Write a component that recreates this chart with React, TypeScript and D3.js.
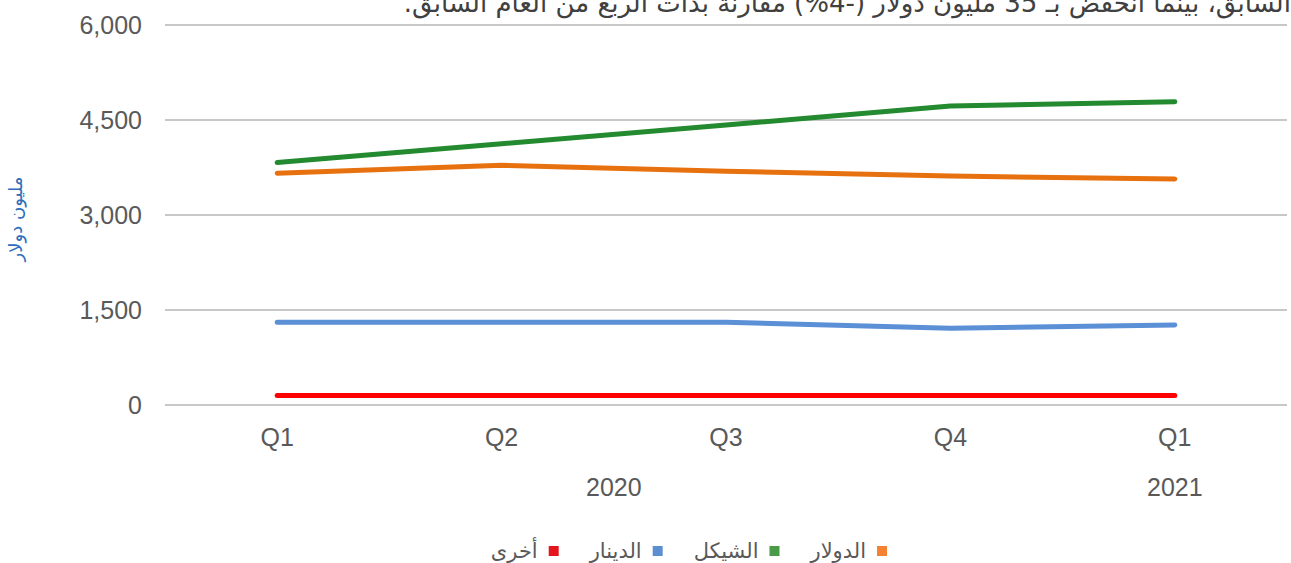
import React from 'react';
import * as d3 from 'd3';

const quarterLabels = ['Q1', 'Q2', 'Q3', 'Q4', 'Q1'];
const categoryKeys = ['2020-Q1', '2020-Q2', '2020-Q3', '2020-Q4', '2021-Q1'];
const yearGroups = [
  { label: '2020', first: 0, last: 3 },
  { label: '2021', first: 4, last: 4 },
];
const dollarValues = [3660, 3785, 3690, 3615, 3570];
const shekelValues = [3830, 4125, 4420, 4720, 4790];
const dinarValues = [1305, 1305, 1305, 1210, 1265];
const otherValues = [150, 150, 150, 150, 150];
const yTicks = [0, 1500, 3000, 4500, 6000];
const seriesNames = ['الدولار', 'الشيكل', 'الدينار', 'أخرى'];
const titleText = 'السابق، بينما انخفض بـ 35 مليون دولار (-4%) مقارنة بذات الربع من العام السابق.';
const yAxisTitle = 'مليون دولار';

const W = 1291;
const H = 563;
const FONT = "'Liberation Sans', Arial, 'DejaVu Sans', sans-serif";
const AR_FONT = "'DejaVu Sans', sans-serif";

const series = [
  { name: seriesNames[0], values: dollarValues, line: '#E8710F', swatch: '#F58233' },
  { name: seriesNames[1], values: shekelValues, line: '#238A2F', swatch: '#4A9A48' },
  { name: seriesNames[2], values: dinarValues, line: '#5B8FD6', swatch: '#5B8FD0' },
  { name: seriesNames[3], values: otherValues, line: '#FF0000', swatch: '#E3151E' },
];

function measure(text: string, font: string): number {
  const c = document.createElement('canvas');
  const ctx = c.getContext('2d');
  if (!ctx) return text.length * 10;
  ctx.font = font;
  return ctx.measureText(text).width;
}

export default function App() {
  const left = 165;
  const right = 1287;
  const top = 25;
  const bottom = 405;

  const x = d3.scalePoint<string>().domain(categoryKeys).range([left, right]).padding(0.5);
  const y = d3.scaleLinear().domain([0, 6000]).range([bottom, top]);

  const drawOrder = [series[3], series[2], series[0], series[1]];

  const line = (vals: number[]) =>
    d3
      .line<number>()
      .x((_, i) => x(categoryKeys[i]) as number)
      .y((v) => y(v))(vals) || '';

  // legend layout (right-to-left)
  const legendFontSize = 21;
  const legendY = 551;
  const swatch = 10;
  let cursor = 887;
  const legendItems = series.map((s) => {
    const w = measure(s.name, `${legendFontSize}px ${AR_FONT}`);
    const item = { ...s, swatchX: cursor - swatch, textRight: cursor - swatch - 11 };
    cursor = cursor - swatch - 11 - w - 31;
    return item;
  });

  return (
    <svg
      width={W}
      height={H}
      viewBox={`0 0 ${W} ${H}`}
      style={{ position: 'absolute', left: 0, top: 0, background: '#fff' }}
    >
      <rect x={0} y={0} width={W} height={H} fill="#fff" />
      {/* title (clipped at top, as in the source) */}
      <text
        x={1291}
        y={12}
        direction="rtl"
        textAnchor="start"
        fontFamily={AR_FONT}
        fontSize={26}
        fill="#404040"
      >
        {titleText}
      </text>

      {/* gridlines */}
      {yTicks.map((t) => (
        <line key={t} x1={left} x2={right} y1={y(t)} y2={y(t)} stroke="#C8C8C8" strokeWidth={2} />
      ))}
      {/* y tick labels */}
      {yTicks.map((t) => (
        <text
          key={'yl' + t}
          x={142}
          y={y(t)}
          dy="0.35em"
          textAnchor="end"
          fontFamily={FONT}
          fontSize={25}
          fill="#595959"
        >
          {d3.format(',')(t)}
        </text>
      ))}
      {/* y axis title */}
      <text
        transform={`translate(22, 219) rotate(-90)`}
        textAnchor="middle"
        fontFamily={AR_FONT}
        fontSize={18}
        fill="#2F6EBA"
      >
        {yAxisTitle}
      </text>

      {/* x labels */}
      {categoryKeys.map((k, i) => (
        <text
          key={'xl' + k}
          x={x(k) as number}
          y={437}
          dy="0.35em"
          textAnchor="middle"
          fontFamily={FONT}
          fontSize={25}
          fill="#595959"
        >
          {quarterLabels[i]}
        </text>
      ))}
      {yearGroups.map((g) => (
        <text
          key={'yr' + g.label}
          x={((x(categoryKeys[g.first]) as number) + (x(categoryKeys[g.last]) as number)) / 2}
          y={487}
          dy="0.35em"
          textAnchor="middle"
          fontFamily={FONT}
          fontSize={25}
          fill="#595959"
        >
          {g.label}
        </text>
      ))}

      {/* lines */}
      {drawOrder.map((s) => (
        <path
          key={'ln' + s.name}
          d={line(s.values)}
          fill="none"
          stroke={s.line}
          strokeWidth={5}
          strokeLinecap="round"
          strokeLinejoin="round"
        />
      ))}

      {/* legend */}
      {legendItems.map((s) => (
        <g key={'lg' + s.name}>
          <rect x={s.swatchX} y={legendY - swatch / 2} width={swatch} height={swatch} fill={s.swatch} />
          <text
            x={s.textRight}
            y={legendY}
            dy="0.35em"
            textAnchor="end"
            fontFamily={AR_FONT}
            fontSize={legendFontSize}
            fill="#595959"
          >
            {s.name}
          </text>
        </g>
      ))}
    </svg>
  );
}
